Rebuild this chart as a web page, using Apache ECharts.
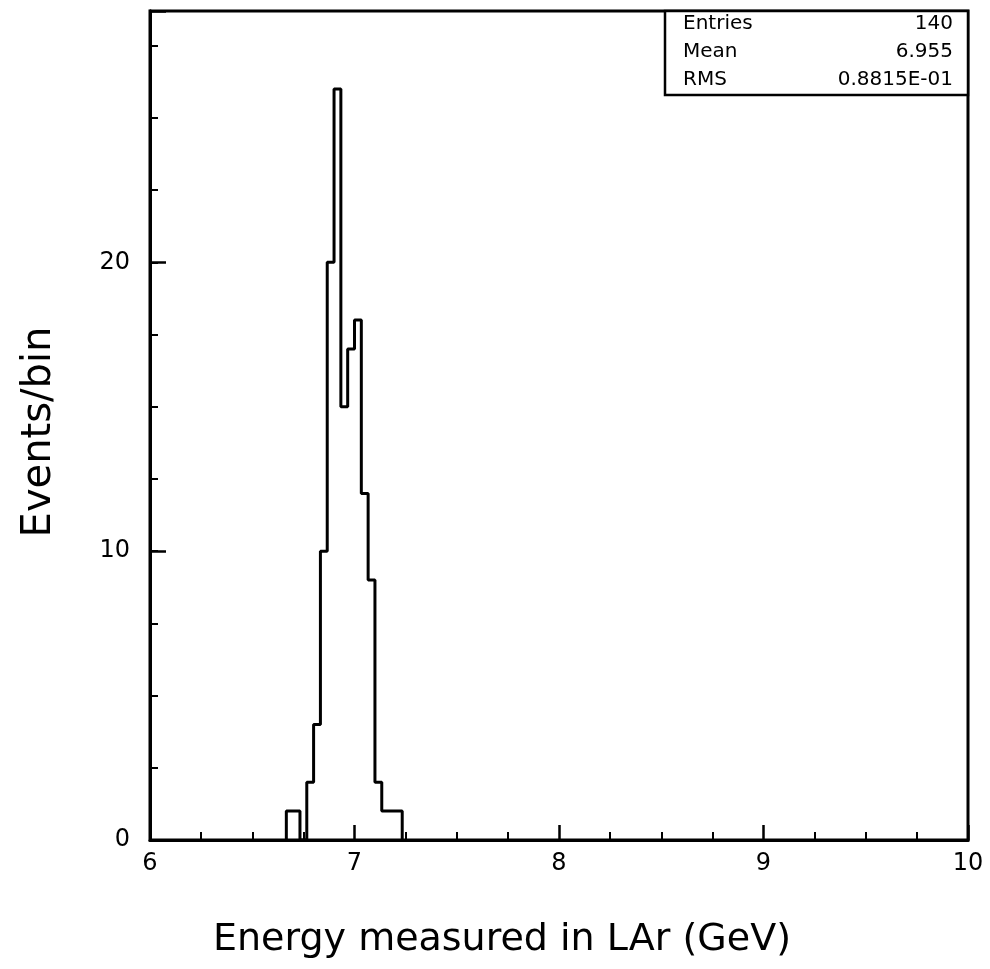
<!DOCTYPE html>
<html><head><meta charset="utf-8">
<script src="https://cdn.jsdelivr.net/npm/echarts@6/dist/echarts.min.js"></script>
<style>html,body{margin:0;padding:0;background:#fff}#c{width:990px;height:969px}</style>
</head><body><div id="c"></div>
<script>
// ---- data ----
const xTickLabels = ['6', '7', '8', '9', '10'];
const yTickLabels = ['0', '10', '20'];
const histFirstEdge = 6 + 20 / 30;   // lower edge of first filled bin (GeV)
const binWidth = 1 / 30;             // 120 bins over 6..10 GeV
const binCounts = [1, 1, 0, 2, 4, 10, 20, 26, 15, 17, 18, 12, 9, 2, 1, 1, 1];
const statNames = ['Entries', 'Mean', 'RMS'];
const statValues = ['140', '6.955', '0.8815E-01'];
const xTitle = 'Energy measured in LAr (GeV)';
const yTitle = 'Events/bin';

// step outline vertices from bin edges and counts
const outline = [[histFirstEdge, 0]];
binCounts.forEach((c, i) => {
  const lo = histFirstEdge + i * binWidth;
  outline.push([lo, c], [lo + binWidth, c]);
});
outline.push([histFirstEdge + binCounts.length * binWidth, 0]);

const FONT = 'DejaVu Sans';
const gridL = 150, gridR = 968, gridT = 11, gridB = 840;

const chart = echarts.init(document.getElementById('c'), null, {renderer: 'canvas'});
const yBase = {
  type: 'value', min: 0, max: 28.7, position: 'left',
  splitLine: {show: false},
  axisLine: {show: true, lineStyle: {color: '#000', width: 3}},
};
chart.setOption({
  animation: false,
  backgroundColor: '#fff',
  grid: {left: gridL, right: 990 - gridR, top: gridT, bottom: 969 - gridB,
         show: true, borderColor: '#000', borderWidth: 3, backgroundColor: 'transparent'},
  xAxis: {
    type: 'value', min: 6, max: 10, interval: 1,
    splitLine: {show: false},
    axisLine: {show: true, lineStyle: {color: '#000', width: 3}},
    axisTick: {show: true, inside: true, length: 15, lineStyle: {color: '#000', width: 2.5}},
    minorTick: {show: true, splitNumber: 4, length: 8, lineStyle: {color: '#000', width: 2}},
    axisLabel: {color: '#000', fontFamily: FONT, fontSize: 24, margin: 12,
      formatter: v => xTickLabels.includes(String(v)) ? String(v) : ''}
  },
  yAxis: [
    Object.assign({}, yBase, {
      interval: 10,
      axisTick: {show: true, inside: true, length: 16, lineStyle: {color: '#000', width: 2.5}},
      axisLabel: {color: '#000', fontFamily: FONT, fontSize: 24, margin: 20,
        formatter: v => yTickLabels.includes(String(v)) ? String(v) : ''}
    }),
    Object.assign({}, yBase, {
      interval: 2.5,
      axisTick: {show: true, inside: true, length: 8, lineStyle: {color: '#000', width: 2}},
      axisLabel: {show: false}
    })
  ],
  series: [{
    type: 'line', data: outline, yAxisIndex: 0, showSymbol: false, symbol: 'none',
    lineStyle: {color: '#000', width: 3}, silent: true
  }],
  graphic: [
    {type: 'text', x: 502, y: 940,
     style: {text: xTitle, font: '38px "DejaVu Sans"', fill: '#000', align: 'center', verticalAlign: 'middle'}},
    {type: 'text', x: 40, y: 432, rotation: Math.PI / 2,
     style: {text: yTitle, font: '40px "DejaVu Sans"', fill: '#000', align: 'center', verticalAlign: 'middle'}},
    {type: 'rect', shape: {x: 665, y: gridT, width: gridR - 665, height: 84},
     style: {fill: '#fff', stroke: '#000', lineWidth: 2.5}, z: 10},
    ...statNames.map((n, i) => ({type: 'text', x: 683, y: 24 + i * 28, z: 11,
      style: {text: n, font: '20px "DejaVu Sans"', fill: '#000', verticalAlign: 'middle'}})),
    ...statValues.map((v, i) => ({type: 'text', x: 953, y: 24 + i * 28, z: 11,
      style: {text: v, font: '20px "DejaVu Sans"', fill: '#000', align: 'right', verticalAlign: 'middle'}}))
  ]
});
</script></body></html>
